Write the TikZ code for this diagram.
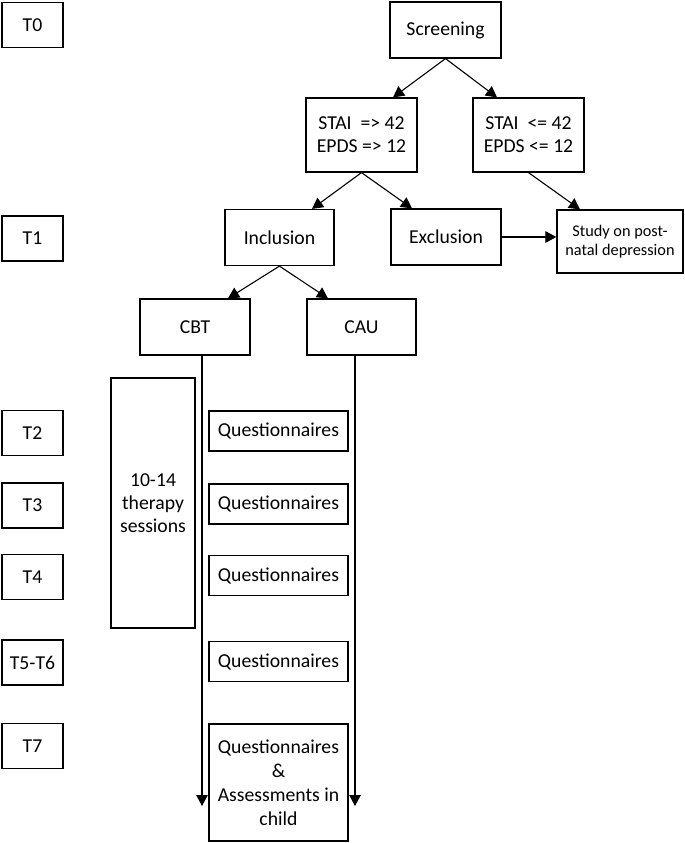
\documentclass[tikz,border=0pt]{standalone}
\usepackage{fontspec}
\setmainfont{Carlito}
\usetikzlibrary{arrows.meta}
\begin{document}
\begin{tikzpicture}[x=1pt,y=-1pt,
  box/.style={draw, line width=1.2pt, align=center, inner sep=0pt,
    font=\fontsize{19.7}{23}\selectfont},
  tbox/.style={box, minimum width=61pt, minimum height=45pt},
  qbox/.style={box, minimum width=139pt, minimum height=40pt},
  arr/.style={line width=1.1pt, -{Triangle[length=11pt,width=11.5pt]}}]
\useasboundingbox (0,0) rectangle (685,843);
% time points
\node[tbox] (t0) at (32.5,25) {T0};
\node[tbox] (t1) at (32.5,238.5) {T1};
\node[tbox] (t2) at (32.5,433) {T2};
\node[tbox] (t3) at (32.5,505.5) {T3};
\node[tbox] (t4) at (32.5,577) {T4};
\node[tbox] (t56) at (32.5,662.5) {T5-T6};
\node[tbox] (t7) at (32.5,746) {T7};
% flow
\node[box, minimum width=111pt, minimum height=56pt] (scr) at (445.5,30) {Screening};
\node[box, minimum width=111pt, minimum height=74pt] (stail) at (361.5,135) {STAI\ \ => 42\\EPDS => 12};
\node[box, minimum width=111pt, minimum height=74pt] (stair) at (528.5,135) {STAI\ \ <= 42\\EPDS <= 12};
\node[box, minimum width=109pt, minimum height=56pt] (incl) at (279.5,237.5) {Inclusion};
\node[box, minimum width=110pt, minimum height=56pt] (excl) at (446,237) {Exclusion};
\node[box, minimum width=126pt, minimum height=63pt, font=\fontsize{16.3}{19}\selectfont] (study) at (620,241.5) {Study on post-\\natal depression};
\node[box, minimum width=110pt, minimum height=56pt] (cbt) at (195,327) {CBT};
\node[box, minimum width=109pt, minimum height=56pt] (cau) at (361.5,327) {CAU};
\node[box, minimum width=84pt, minimum height=250pt] (ther) at (153,503) {10-14\\therapy\\sessions};
\node[qbox] (q1) at (278.5,431) {Questionnaires};
\node[qbox] (q2) at (278.5,504) {Questionnaires};
\node[qbox] (q3) at (278.5,575.5) {Questionnaires};
\node[qbox] (q4) at (278.5,661.5) {Questionnaires};
\node[qbox, minimum height=117pt, font=\fontsize{19.7}{24}\selectfont] (q5) at (278.5,782.5) {Questionnaires\\\&\\Assessments in\\child};
% connectors
\draw[arr] (scr.south) -- ([xshift=31.5pt]stail.north);
\draw[arr] (scr.south) -- ([xshift=-31.5pt]stair.north);
\draw[arr] (stail.south) -- ([xshift=32.5pt]incl.north);
\draw[arr] (stail.south) -- ([xshift=-34pt]excl.north);
\draw[arr] (stair.south) -- ([xshift=-40pt]study.north);
\draw[arr] (excl.east) -- (excl.east -| study.west);
\draw[arr] (incl.south) -- ([xshift=33pt]cbt.north);
\draw[arr] (incl.south) -- ([xshift=-33.5pt]cau.north);
\coordinate (cbtend) at (202,806);
\coordinate (cauend) at (355,806);
\draw[arr] ([xshift=7pt]cbt.south) -- (cbtend);
\draw[arr] ([xshift=-6.5pt]cau.south) -- (cauend);
\end{tikzpicture}
\end{document}
